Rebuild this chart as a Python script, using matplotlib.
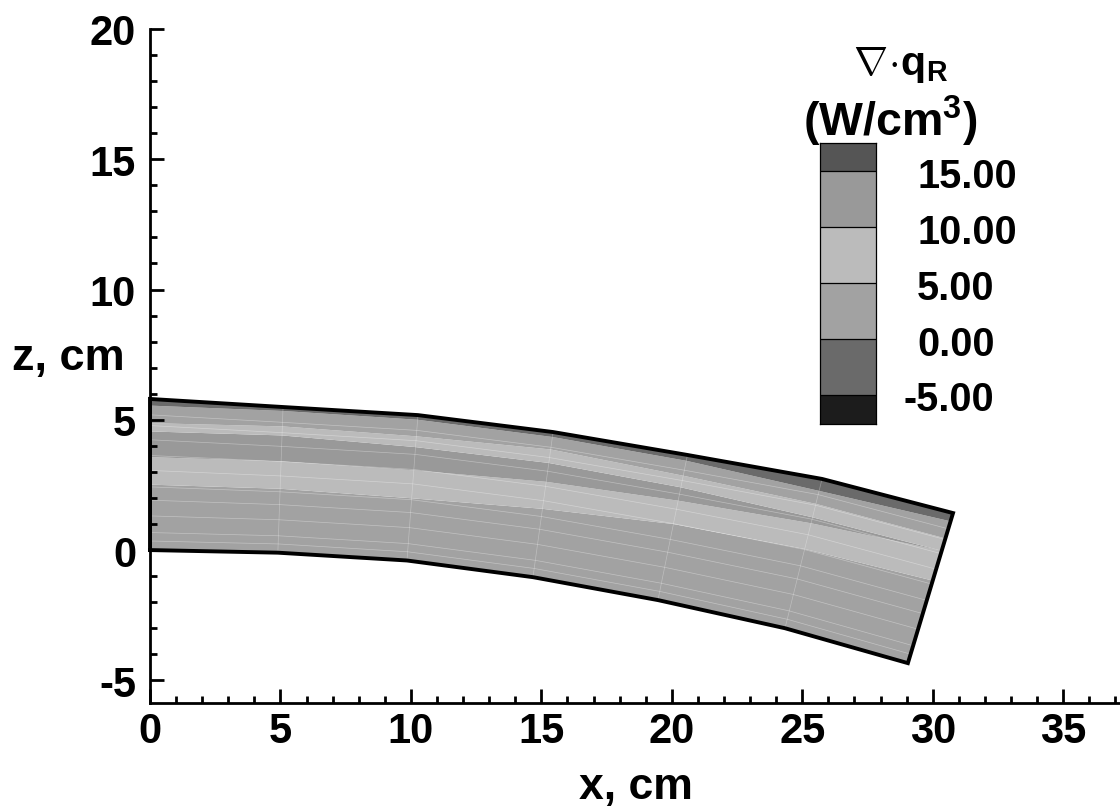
"""Contour section of the radiative flux divergence, redrawn with matplotlib."""

import matplotlib
matplotlib.use("Agg")

import matplotlib.pyplot as plt
import numpy as np

plt.rcParams["font.family"] = ["Liberation Sans", "DejaVu Sans"]
plt.rcParams["font.weight"] = "bold"
plt.rcParams["axes.unicode_minus"] = False
plt.rcParams["mathtext.fontset"] = "custom"
plt.rcParams["mathtext.rm"] = "Liberation Sans:bold"
plt.rcParams["mathtext.bf"] = "Liberation Sans:bold"
plt.rcParams["mathtext.it"] = "Liberation Sans:bold"

# stations along the body, lower and upper wall
x_bottom = np.array([0.0, 4.9, 9.85, 14.68, 19.47, 24.34, 29.05])
z_bottom = np.array([0.0, -0.1, -0.4, -1.04, -1.92, -3.0, -4.34])
x_top = np.array([0.0, 5.1, 10.27, 15.45, 20.6, 25.76, 30.78])
z_top = np.array([5.8, 5.49, 5.18, 4.53, 3.65, 2.73, 1.42])

# band edges as fraction of the wall-to-wall distance at each station
edge_light_low = [0.433, 0.439, 0.428, 0.471, 0.524, 0.531, 0.55]
edge_grey_low = [0.615, 0.627, 0.62, 0.657, 0.685, 0.703, 0.749]
edge_grey_high = [0.785, 0.805, 0.78, 0.787, 0.777, 0.743, 0.749]
edge_light_high = [0.84, 0.867, 0.854, 0.88, 0.857, 0.833, 0.831]
edge_dark = [0.956, 0.973, 0.968, 0.966, 0.96, 0.92, 0.945]

band_colors = ["#a2a2a2", "#bbbbbb", "#999999", "#bbbbbb", "#a2a2a2", "#6a6a6a"]

# mesh lines
mesh_fractions = [0.06, 0.116, 0.226, 0.33, 0.418, 0.527, 0.626, 0.73, 0.824, 0.895]

# legend
legend_levels = [-7.5, -5, 0, 5, 10, 15, 17.5]
legend_colors = ["#1c1c1c", "#6a6a6a", "#a2a2a2", "#bbbbbb", "#999999", "#555555"]
legend_ticks = [15, 10, 5, 0, -5]
legend_labels = ["15.00", "10.00", "5.00", "0.00", "-5.00"]

x_ticks = [0, 5, 10, 15, 20, 25, 30, 35]
z_ticks = [-5, 0, 5, 10, 15, 20]


def along_station(frac):
    frac = np.asarray(frac)
    return x_bottom + frac * (x_top - x_bottom), z_bottom + frac * (z_top - z_bottom)


W, H = 1120, 812
fig = plt.figure(figsize=(W / 100, H / 100), dpi=100)
ax = fig.add_axes([150 / W, 1 - 704 / H, 970 / W, 674 / H])
ax.set_xlim(0, 37.18)
ax.set_ylim(-5.87, 20)

edges = [np.zeros(7), edge_light_low, edge_grey_low, edge_grey_high,
         edge_light_high, edge_dark, np.ones(7)]
for lo, hi, color in zip(edges[:-1], edges[1:], band_colors):
    xl, zl = along_station(lo)
    xh, zh = along_station(hi)
    ax.fill(np.r_[xl, xh[::-1]], np.r_[zl, zh[::-1]], color=color, lw=0, zorder=1)

for f in mesh_fractions:
    xm, zm = along_station(np.full(7, f))
    ax.plot(xm, zm, color="white", lw=0.5, alpha=0.35, zorder=2)
for i in range(1, 6):
    ax.plot([x_bottom[i], x_top[i]], [z_bottom[i], z_top[i]],
            color="white", lw=0.5, alpha=0.3, zorder=2)

# outline
ax.plot(np.r_[x_bottom, x_top[::-1], x_bottom[0]], np.r_[z_bottom, z_top[::-1], z_bottom[0]],
        color="black", lw=2.8, zorder=3, clip_on=False, solid_joinstyle="miter")

for side in ("top", "right"):
    ax.spines[side].set_visible(False)
for side in ("left", "bottom"):
    ax.spines[side].set_linewidth(2)

ax.set_xticks(x_ticks)
ax.set_yticks(z_ticks)
ax.set_xticks(np.arange(0, 38), minor=True)
ax.set_yticks(np.arange(-5, 21), minor=True)
ax.tick_params(which="major", direction="in", length=10, width=2, labelsize=30)
ax.tick_params(which="minor", direction="in", length=5, width=2)
ax.tick_params(axis="x", which="major", pad=6)
ax.tick_params(axis="y", which="major", pad=10)
for lbl in ax.get_yticklabels():
    lbl.set_verticalalignment("center_baseline")

ax.set_xlabel("x, cm", fontsize=32, fontweight="bold")
ax.xaxis.set_label_coords((636 - 150) / 970, -(787 - 704) / 674, transform=ax.transAxes)
ax.xaxis.label.set_verticalalignment("center")
fig.text(12 / W, 1 - 359 / H, "z, cm", fontsize=32.5, fontweight="bold", ha="left", va="center")

# contour legend
cax = fig.add_axes([820 / W, 1 - 424.5 / H, 56 / W, 280.5 / H])
cax.set_xlim(0, 1)
cax.set_ylim(legend_levels[0], legend_levels[-1])
for lo, hi, color in zip(legend_levels[:-1], legend_levels[1:], legend_colors):
    cax.fill_between([0, 1], lo, hi, color=color, lw=0)
for level in legend_ticks:
    cax.axhline(level, color="black", lw=0.9)
cax.set_xticks([])
cax.set_yticks([])
for spine in cax.spines.values():
    spine.set_linewidth(0.9)

for tick, label in zip(legend_ticks, legend_labels):
    py = 173 + (15 - tick) * 11.17
    if label.startswith("-"):
        fig.text(994 / W, 1 - py / H, label, fontsize=28.5, ha="right", va="center_baseline")
    else:
        fig.text(917 / W, 1 - py / H, label, fontsize=28.5, ha="left", va="center_baseline")

fig.text(901 / W, 1 - 65 / H, r"$\nabla\!\cdot\!\mathbf{q}_{\mathbf{R}}$", fontsize=29.5, ha="center", va="center")
fig.text(890 / W, 1 - 121 / H, r"(W/cm$^{\mathbf{3}}$)", fontsize=33.5, ha="center", va="center")

fig.savefig("out.png", dpi=100)
plt.close(fig)
